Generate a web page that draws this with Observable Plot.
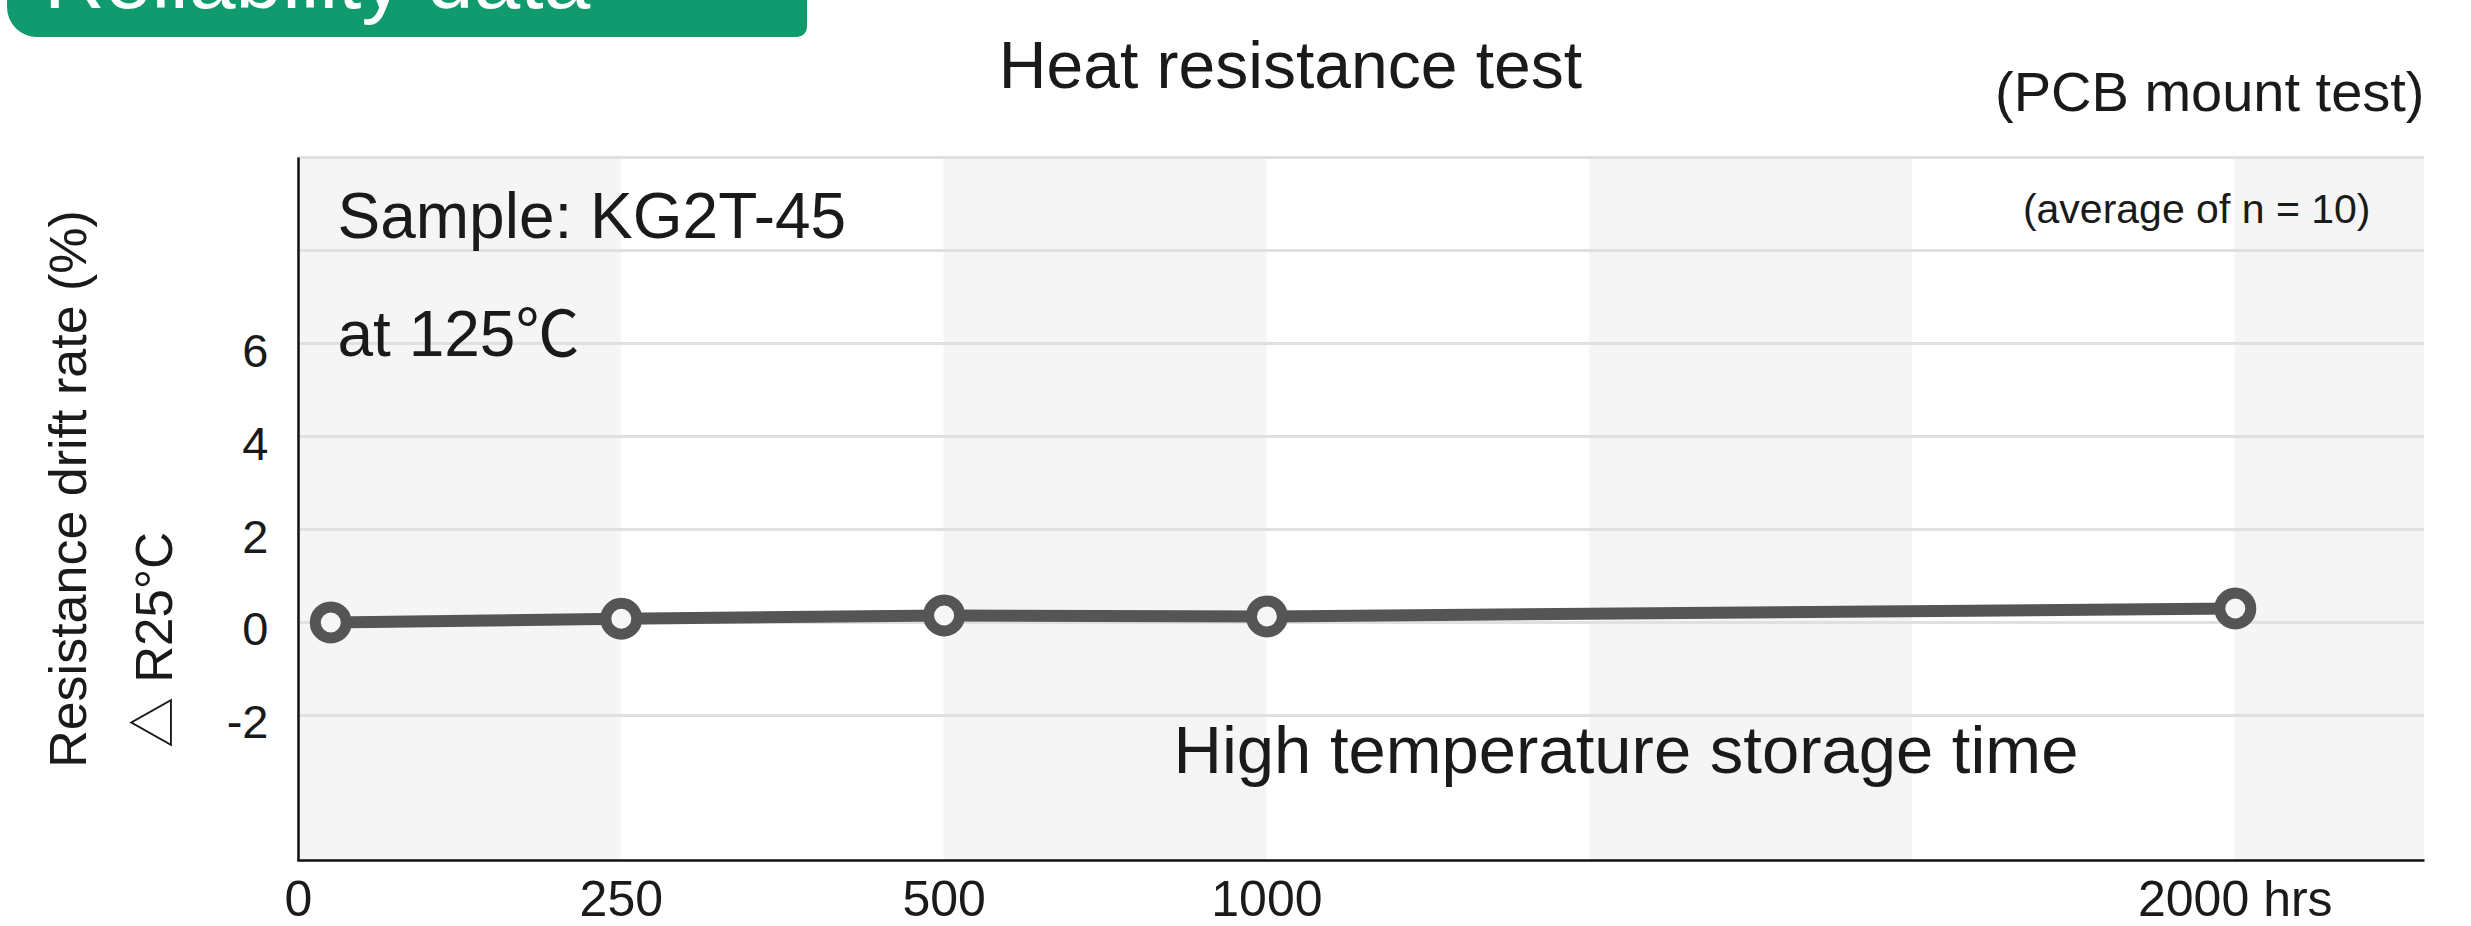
<!DOCTYPE html>
<html>
<head>
<meta charset="utf-8">
<script src="https://cdn.jsdelivr.net/npm/d3@7"></script>
<script src="https://cdn.jsdelivr.net/npm/@observablehq/plot@0.6"></script>
<style>
html, body { margin: 0; padding: 0; background: #ffffff; }
#wrap { position: relative; width: 2471px; height: 926px; overflow: hidden;
  font-family: "Liberation Sans", Arial, Helvetica, sans-serif; }
#banner { position: absolute; left: 7px; top: -70px; width: 800px; height: 107px;
  background: #109a6e; border-radius: 0 0 10px 30px; }
#banner span { position: absolute; left: 37px; top: 7px; font-size: 84px; line-height: 84px;
  color: #ffffff; white-space: nowrap; }
#chart { position: absolute; left: 0; top: 0; }
</style>
</head>
<body>
<div id="wrap">
  <div id="chart"></div>
  <div id="banner"><span id="bannerText"></span></div>
</div>
<script>
// ---- data ----
const hours = [0, 250, 500, 1000, 2000];
const drift = [0.0, 0.08, 0.15, 0.13, 0.30];
const xTickLabels = ["0", "250", "500", "1000", "2000 hrs"];
const yTicks = [-2, 0, 2, 4, 6];
const gridTicks = [-2, 0, 2, 4, 6, 8, 10];
const yDomain = [-5.12, 10];

// ---- texts ----
const bannerTitle = "Reliability data";
const chartTitle = "Heat resistance test";
const mountNote = "(PCB mount test)";
const sampleNote = "Sample: KG2T-45";
const tempNote = "at 125℃";
const avgNote = "(average of n = 10)";
const xTitle = "High temperature storage time";
const yTitle1 = "Resistance drift rate (%)";
const yTitle2 = "△ R25°C";

document.getElementById("bannerText").textContent = bannerTitle;

// ---- layout ----
const W = 2471, H = 926;
const mL = 298, mR = 47, mT = 157, mB = 66;
const fw = W - mL - mR, fh = H - mT - mB;
const slot = 322.8;                       // width of one background band
const slotOf = [0.1, 1, 2, 3, 6];         // band position of each time tick
const xRange = slotOf.map(s => mL + s * slot);

const data = hours.map((h, i) => ({hours: h, drift: drift[i]}));
const bands = [[-1000, 250], [500, 1000], [4000 / 3, 5000 / 3], [2000, 5000]];

const ink = "#1a1a1a";
const txt = (s, o) => Plot.text([s], {text: d => d, fill: ink, ...o});

const chart = Plot.plot({
  width: W, height: H,
  marginLeft: mL, marginRight: mR, marginTop: mT, marginBottom: mB,
  style: {fontFamily: '"Liberation Sans", Arial, Helvetica, sans-serif', color: ink, background: "transparent", overflow: "visible"},
  x: {type: "linear", domain: hours, range: xRange},
  y: {domain: yDomain},
  marks: [
    Plot.rect(bands, {x1: d => d[0], x2: d => d[1], fill: "#f5f5f5", clip: true}),
    Plot.gridY(gridTicks, {stroke: "#e0e0e0", strokeOpacity: 1, strokeWidth: 3}),
    Plot.frame({stroke: "#111", strokeWidth: 2.5, strokeDasharray: `0 ${fw + fh} ${fw + fh}`}),
    Plot.axisY(yTicks, {tickSize: 0, tickPadding: 30, fontSize: 47, dy: 8, tickFormat: d => String(d), label: null}),
    Plot.axisX(hours.slice(1), {tickSize: 0, tickPadding: 20, fontSize: 50, label: null,
      tickFormat: h => xTickLabels[hours.indexOf(h)]}),
    txt(xTickLabels[0], {frameAnchor: "bottom-left", textAnchor: "middle", lineAnchor: "top", dy: 20, fontSize: 50}),
    Plot.line(data, {x: "hours", y: "drift", stroke: "#555555", strokeWidth: 12}),
    Plot.dot(data, {x: "hours", y: "drift", r: 15.5, stroke: "#555555", strokeWidth: 11, fill: "#f6f6f6"}),
    // titles and annotations
    txt(chartTitle, {frameAnchor: "top", textAnchor: "middle", lineAnchor: "bottom", dx: -71, dy: -70, fontSize: 66}),
    txt(mountNote, {frameAnchor: "top-right", textAnchor: "end", lineAnchor: "bottom", dx: 0, dy: -47, fontSize: 56}),
    txt(sampleNote, {frameAnchor: "top-left", textAnchor: "start", lineAnchor: "bottom", dx: 39, dy: 80, fontSize: 64}),
    txt(tempNote, {frameAnchor: "top-left", textAnchor: "start", lineAnchor: "bottom", dx: 39, dy: 198, fontSize: 64,
      fontFamily: '"Liberation Sans", "Noto Sans CJK JP", sans-serif'}),
    txt(avgNote, {frameAnchor: "top-right", textAnchor: "end", lineAnchor: "bottom", dx: -54, dy: 65, fontSize: 41}),
    txt(xTitle, {frameAnchor: "top-left", textAnchor: "start", lineAnchor: "bottom", dx: 875, dy: 615, fontSize: 67}),
    txt(yTitle1, {frameAnchor: "left", textAnchor: "middle", lineAnchor: "bottom", rotate: -90, dx: -213, dy: -20, fontSize: 52}),
    txt(yTitle2, {frameAnchor: "left", textAnchor: "middle", lineAnchor: "bottom", rotate: -90, dx: -127, dy: 131, fontSize: 51,
      fontFamily: '"Liberation Sans", "Noto Sans CJK JP", sans-serif'})
  ]
});
document.getElementById("chart").appendChild(chart);
</script>
</body>
</html>
